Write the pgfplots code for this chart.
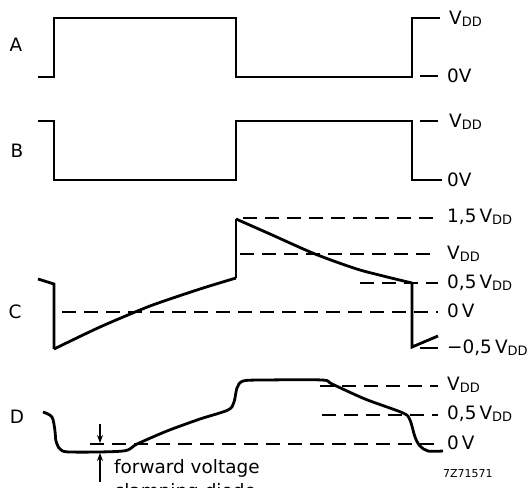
\documentclass[border=0pt]{standalone}
\usepackage{fontspec}
\setmainfont{DejaVu Sans}
\usepackage{pgfplots}
\pgfplotsset{compat=1.18}
\usetikzlibrary{arrows.meta}

\newcommand{\labfont}{\fontsize{18.5}{22}\selectfont}
\newcommand{\vdd}{V{\fontsize{13}{13}\selectfont\raisebox{-0.3ex}{DD}}}

\pgfplotsset{
  trace/.style={black, line width=2.8bp, line join=miter, line cap=butt, mark=none},
  lvl/.style={black, line width=1.2bp, dash pattern=on 14bp off 8bp, mark=none},
  tck/.style={black, line width=1.2bp, mark=none},
}
\tikzset{lab/.style={font=\labfont, inner sep=0pt}}

\begin{document}
\labfont
\begin{tikzpicture}
\begin{axis}[
  hide axis, scale only axis,
  width=530bp, height=488bp,
  xmin=0, xmax=530, ymin=0, ymax=488,
  y dir=reverse, clip=false,
]
% A
\addplot[trace] coordinates {(38,77) (54,77) (54,18) (236,18) (236,77) (412,77) (412,18) (440,18)};
\addplot[tck] coordinates {(420,76) (438,76)};
% B
\addplot[trace] coordinates {(38,121) (54,121) (54,180) (236,180) (236,121) (412,121) (412,180) (442,180)};
\addplot[tck] coordinates {(420,121) (438,121)};

% C levels
\addplot[lvl] coordinates {(243,218) (438,218)};
\addplot[lvl] coordinates {(240,254) (438,254)};
\addplot[lvl] coordinates {(360,283) (438,283)};
\addplot[lvl] coordinates {(62,312) (438,312)};
\addplot[tck] coordinates {(420,348) (438,348)};
% C trace
\addplot[trace] coordinates {(38,279) (54,284) (54,349)};
\addplot[trace, smooth, tension=0.4] coordinates {(54,349) (100,327) (150,306) (200,289) (236,278)};
\addplot[trace] coordinates {(236,278) (236,219)};
\addplot[trace, smooth, tension=0.4] coordinates {(236,219) (270,234) (315,254) (360,270) (412,283)};
\addplot[trace] coordinates {(412,283) (412,347) (438,336)};

% D levels
\addplot[lvl] coordinates {(320,386) (438,386)};
\addplot[lvl] coordinates {(322,415) (438,415)};
\addplot[lvl] coordinates {(90,444) (438,444)};
% D trace
\addplot[trace, smooth, tension=0.5] coordinates {
  (43,412) (52,417) (55,431) (56,441) (60,449) (70,452) (123,451)
  (137,444) (167,431) (200,419) (228,410) (234,402) (237,388) (243,381)
  (265,380) (322,380) (332,384) (365,399) (403,413) (410,420) (415,437)
  (420,446) (428,451) (443,451)};

% arrows
\draw[-{Stealth[length=8bp,width=6bp]}, line width=1.2bp] (axis cs:100,424) -- (axis cs:100,443);
\draw[-{Stealth[length=8bp,width=6bp]}, line width=1.2bp] (axis cs:100,482) -- (axis cs:100,453);

% row labels
\node[lab] at (axis cs:16,45) {A};
\node[lab] at (axis cs:17,151) {B};
\node[lab] at (axis cs:15,312) {C};
\node[lab] at (axis cs:17,417) {D};

% right labels
\node[lab, anchor=west] at (axis cs:449,19) {\vdd};
\node[lab, anchor=west] at (axis cs:447,76) {0V};
\node[lab, anchor=west] at (axis cs:449,122) {\vdd};
\node[lab, anchor=west] at (axis cs:447,180) {0V};
\node[lab, anchor=west] at (axis cs:447,217) {1,5\,\vdd};
\node[lab, anchor=west] at (axis cs:447,254) {\vdd};
\node[lab, anchor=west] at (axis cs:447,283) {0,5\,\vdd};
\node[lab, anchor=west] at (axis cs:447,311) {0\,V};
\node[lab, anchor=west] at (axis cs:447,348) {−0,5\,\vdd};
\node[lab, anchor=west] at (axis cs:447,385) {\vdd};
\node[lab, anchor=west] at (axis cs:447,414) {0,5\,\vdd};
\node[lab, anchor=west] at (axis cs:447,443) {0\,V};

% note
\node[lab, anchor=base west] at (axis cs:114,473) {forward voltage};
\node[lab, anchor=base west] at (axis cs:114,497) {clamping diode};
\node[anchor=west, inner sep=0pt, font=\fontsize{11}{11}\selectfont] at (axis cs:443,474) {7Z71571};
\end{axis}
\pgfresetboundingbox
\path[use as bounding box] (0,0) rectangle (530bp,488bp);
\end{tikzpicture}
\end{document}
